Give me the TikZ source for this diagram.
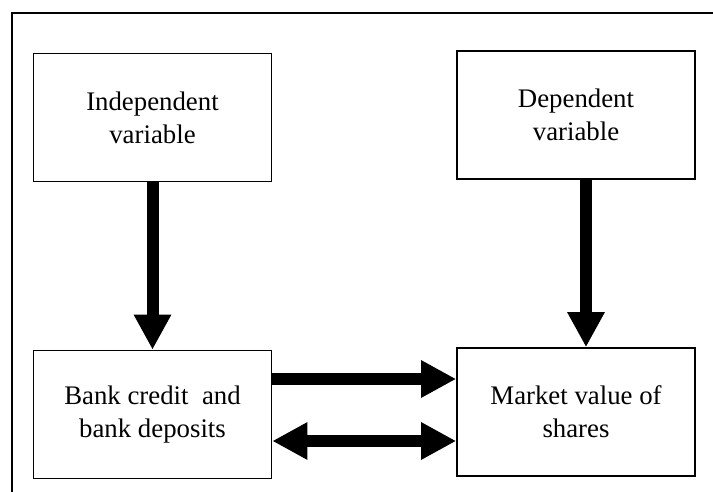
\documentclass[tikz,border=0pt]{standalone}
\usepackage{fontspec}
\setmainfont{Liberation Serif}
\usetikzlibrary{arrows.meta}
\begin{document}
\begin{tikzpicture}[x=0.5pt,y=-0.5pt,
  box/.style={draw, line width=0.8pt, minimum width=119pt, minimum height=64pt, inner sep=0pt, align=center, font=\fontsize{13.4}{16.5}\selectfont},
  fat/.style={line width=6pt, -{Triangle[width=17.5pt,length=17.5pt]}},
  fatboth/.style={line width=6pt, {Triangle[width=17.5pt,length=17.5pt]}-{Triangle[width=17.5pt,length=17.5pt]}}]
\useasboundingbox (0,0) rectangle (713,492);
\draw[line width=0.8pt] (12,492) -- (12,13) -- (713,13);
\node[box] (indep) at (152.5,117.5){Independent\\variable};
\node[box] (dep) at (576,115){Dependent\\variable};
\node[box] (bank) at (152.5,414.5){Bank credit\ \ and\\bank deposits};
\node[box] (mkt) at (576,412){Market value of\\shares};
\draw[fat] (indep.south) -- (bank.north);
\draw[fat] ([xshift=5pt]dep.south) -- ([xshift=5pt]mkt.north);
\draw[fat] ([yshift=17.75pt]bank.east) -- ([yshift=17.75pt]bank.east -| mkt.west);
\draw[fatboth] ([yshift=-13.25pt]bank.east) -- ([yshift=-13.25pt]bank.east -| mkt.west);
\end{tikzpicture}
\end{document}
